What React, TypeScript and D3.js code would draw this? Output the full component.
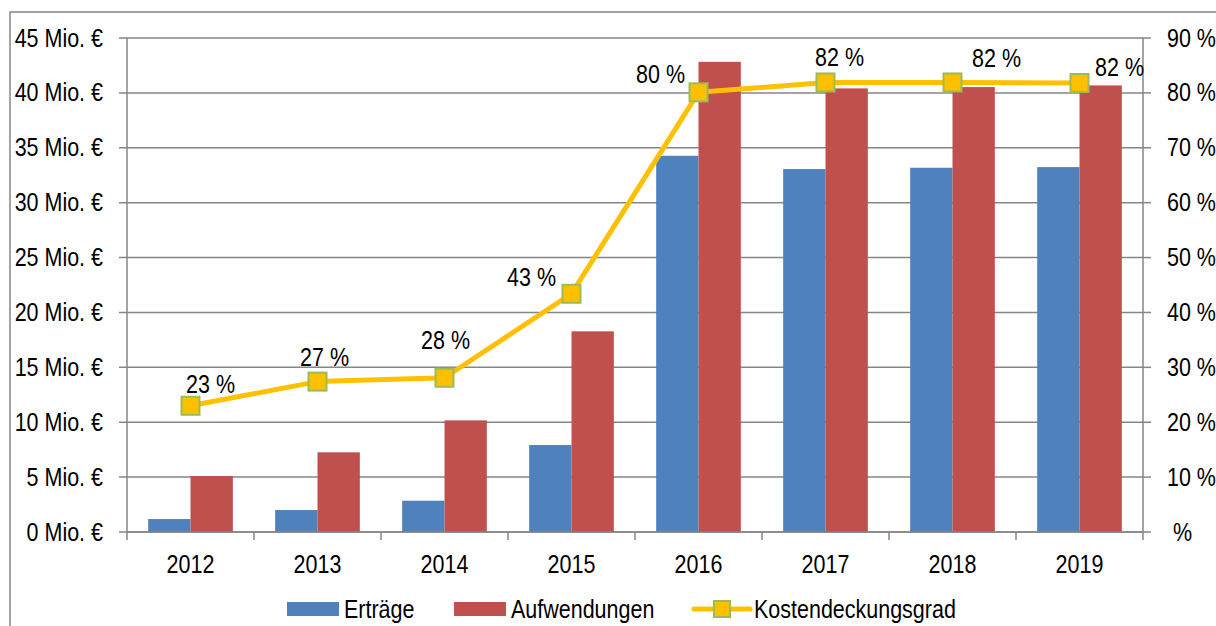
import React from "react";
import * as d3 from "d3";

const years = ["2012", "2013", "2014", "2015", "2016", "2017", "2018", "2019"];
const ertraege = [1.18, 2.0, 2.85, 7.92, 34.27, 33.06, 33.18, 33.24];
const aufwendungen = [5.1, 7.26, 10.17, 18.28, 42.83, 40.41, 40.53, 40.68];
const kostendeckung = [23.0, 27.4, 28.1, 43.4, 80.1, 81.9, 81.9, 81.8];
const leftTicks = [0, 5, 10, 15, 20, 25, 30, 35, 40, 45];
const rightTicks = [0, 10, 20, 30, 40, 50, 60, 70, 80, 90];
const seriesNames = ["Erträge", "Aufwendungen", "Kostendeckungsgrad"];
// label offsets relative to the marker (manually placed labels in the original)
const labelOffsets: [number, number][] = [
  [20, -13], [7, -16], [1, -29], [-40, -8], [-38, -9], [14, -16], [44, -15], [40, -7],
];

const W = 1216;
const H = 626;
const M = { left: 127, right: 1143, top: 38, bottom: 532 };
const FONT = "'Liberation Sans', Arial, sans-serif";
const FS = 25;
const SX = 0.86;
const GRID = "#868686";
const BLUE = "#4F81BD";
const RED = "#C0504D";
const GOLD = "#FFC000";
const GREEN = "#9BBB59";

function T(props: {
  x: number;
  y: number;
  anchor?: "start" | "middle" | "end";
  central?: boolean;
  sx?: number;
  children: React.ReactNode;
}) {
  const { x, y, anchor = "start", central = false, sx = SX, children } = props;
  return (
    <text
      transform={`translate(${x},${y}) scale(${sx},1)`}
      textAnchor={anchor}
      dominantBaseline={central ? "central" : undefined}
      fontSize={FS}
      fill="#000"
      style={{ whiteSpace: "pre" }}
    >
      {children}
    </text>
  );
}

export default function App() {
  const x0 = d3.scaleBand<string>().domain(years).range([M.left, M.right]).padding(0);
  const x1 = d3
    .scaleBand<string>()
    .domain(["e", "a"])
    .range([0, x0.bandwidth()])
    .paddingInner(0)
    .paddingOuter(0.5);
  const yL = d3.scaleLinear().domain([0, 45]).range([M.bottom, M.top]);
  const yR = d3.scaleLinear().domain([0, 90]).range([M.bottom, M.top]);
  const cx = (y: string) => (x0(y) ?? 0) + x0.bandwidth() / 2;

  const line = d3
    .line<number>()
    .x((_, i) => cx(years[i]))
    .y((d) => yR(d));

  const fmtL = (v: number) => `${v} Mio. €`;
  const fmtR = (v: number) => (v === 0 ? " %" : `${v} %`);
  const ms = 18;

  const legendY = 609;

  return (
    <svg
      width={W}
      height={H}
      style={{ position: "absolute", left: 0, top: 0, fontFamily: FONT }}
    >
      <rect x={0} y={0} width={W} height={H} fill="#fff" />
      {/* outer chart border */}
      <rect x={10} y={12} width={W + 20} height={H + 20} fill="none" stroke={GRID} strokeWidth={1.5} />

      {/* gridlines & left ticks */}
      {leftTicks.map((t) => (
        <g key={"gl" + t}>
          <line x1={M.left - 8} x2={M.right} y1={yL(t)} y2={yL(t)} stroke={GRID} strokeWidth={1.5} />
          <T x={103} y={yL(t)} anchor="end" central>
            {fmtL(t)}
          </T>
        </g>
      ))}
      {rightTicks.map((t) => (
        <g key={"gr" + t}>
          <line x1={M.right} x2={M.right + 8} y1={yR(t)} y2={yR(t)} stroke={GRID} strokeWidth={1.5} />
          <T x={1167} y={yR(t)} central>
            {fmtR(t)}
          </T>
        </g>
      ))}

      {/* bars */}
      {years.map((y, i) => (
        <g key={"b" + y}>
          <rect
            x={(x0(y) ?? 0) + (x1("e") ?? 0)}
            y={yL(ertraege[i])}
            width={x1.bandwidth()}
            height={yL(0) - yL(ertraege[i])}
            fill={BLUE}
          />
          <rect
            x={(x0(y) ?? 0) + (x1("a") ?? 0)}
            y={yL(aufwendungen[i])}
            width={x1.bandwidth()}
            height={yL(0) - yL(aufwendungen[i])}
            fill={RED}
          />
        </g>
      ))}

      {/* axes lines */}
      <line x1={M.left} x2={M.left} y1={M.top} y2={M.bottom} stroke={GRID} strokeWidth={1.5} />
      <line x1={M.right} x2={M.right} y1={M.top} y2={M.bottom} stroke={GRID} strokeWidth={1.5} />
      <line x1={M.left} x2={M.right} y1={M.bottom} y2={M.bottom} stroke={GRID} strokeWidth={1.5} />
      {years.concat(["end"]).map((y, i) => {
        const xx = M.left + i * x0.bandwidth();
        return (
          <line key={"xt" + i} x1={xx} x2={xx} y1={M.bottom} y2={M.bottom + 8} stroke={GRID} strokeWidth={1.5} />
        );
      })}
      {years.map((y) => (
        <T key={"xl" + y} x={cx(y)} y={573} anchor="middle">
          {y}
        </T>
      ))}

      {/* line series */}
      <path d={line(kostendeckung) ?? ""} fill="none" stroke={GOLD} strokeWidth={5} strokeLinejoin="round" />
      {kostendeckung.map((v, i) => (
        <rect
          key={"m" + i}
          x={cx(years[i]) - ms / 2}
          y={yR(v) - ms / 2}
          width={ms}
          height={ms}
          fill={GOLD}
          stroke={GREEN}
          strokeWidth={2}
        />
      ))}
      {kostendeckung.map((v, i) => (
        <T
          key={"lbl" + i}
          x={cx(years[i]) + labelOffsets[i][0]}
          y={yR(v) + labelOffsets[i][1]}
          anchor="middle"
        >
          {`${Math.round(v)} %`}
        </T>
      ))}

      {/* legend */}
      <rect x={287} y={legendY - 7} width={52} height={14} fill={BLUE} />
      <T x={344} y={legendY} central>
        {seriesNames[0]}
      </T>
      <rect x={454} y={legendY - 7} width={52} height={14} fill={RED} />
      <T x={511} y={legendY} central>
        {seriesNames[1]}
      </T>
      <line x1={694} x2={750} y1={legendY} y2={legendY} stroke={GOLD} strokeWidth={5} strokeLinecap="round" />
      <rect x={722 - 8} y={legendY - 8} width={16} height={16} fill={GOLD} stroke={GREEN} strokeWidth={2} />
      <T x={754} y={legendY} central>
        {seriesNames[2]}
      </T>
    </svg>
  );
}
